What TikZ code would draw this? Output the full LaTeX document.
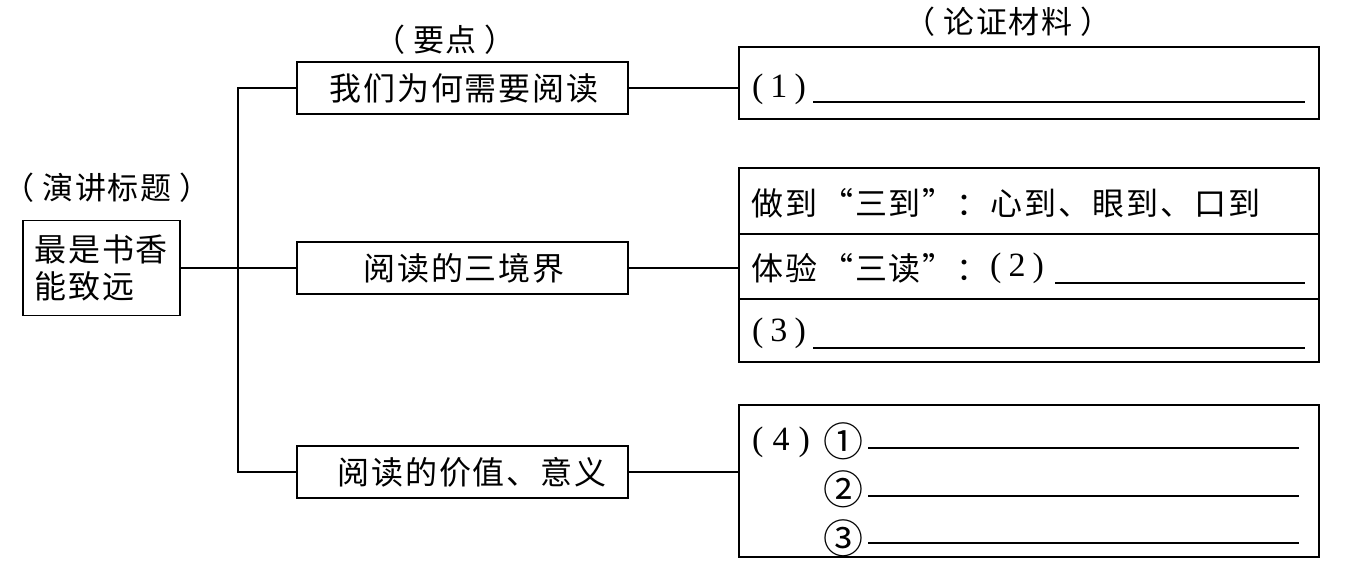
\documentclass[tikz,border=0pt]{standalone}
\usepackage{fontspec}
\setmainfont{Liberation Serif}
\newfontfamily\cjk{Noto Sans CJK SC}
\newfontfamily\cjksp[LetterSpace=6]{Noto Sans CJK SC}
\begin{document}
\begin{tikzpicture}[x=1pt,y=-1pt,
  box/.style={draw, line width=1.5pt, rectangle, inner sep=0pt},
  conn/.style={line width=1.5pt},
  blank/.style={line width=1.5pt},
  txt/.style={font=\cjksp\fontsize{32}{36}\selectfont, inner sep=0pt},
  lbl/.style={font=\cjksp\fontsize{31}{34}\selectfont, inner sep=0pt},
  num/.style={font=\fontsize{34}{36}\selectfont, inner sep=0pt},
  circ/.style={font=\cjk\fontsize{40}{44}\selectfont, inner sep=0pt}]
\useasboundingbox (0,0) rectangle (1347,567);
% title
\node[lbl] (lt) at (107,188) {（\hspace{8pt}演讲标题\hspace{8pt}）};
\node[box, minimum width=157pt, minimum height=95pt] (title) at (101.5,268) {};
\node[txt, anchor=west] (t1) at (34,249) {最是书香};
\node[txt, anchor=west] (t2) at (34,286) {能致远};
% key points
\node[lbl] (lk) at (445,40) {（\hspace{8pt}要点\hspace{8pt}）};
\node[box, minimum width=331pt, minimum height=52pt] (k1) at (462.5,88) {};
\node[txt] (k1t) at (464,88) {我们为何需要阅读};
\node[box, minimum width=331pt, minimum height=52pt] (k2) at (462.5,268) {};
\node[txt] (k2t) at (464,268) {阅读的三境界};
\node[box, minimum width=331pt, minimum height=52pt] (k3) at (462.5,472) {};
\node[txt] (k3t) at (472,472) {阅读的价值、意义};
\coordinate (trunk) at (238,268);
% materials
\node[lbl] (lm) at (1008,22) {（\hspace{8pt}论证材料\hspace{8pt}）};
\node[box, minimum width=580pt, minimum height=72pt] (m1) at (1029,83) {};
\node[box, minimum width=580pt, minimum height=194pt] (m2) at (1029,265) {};
\node[box, minimum width=580pt, minimum height=152pt] (m3) at (1029,481) {};
% connectors
\draw[conn] (k1.west) -| (trunk) |- (k3.west);
\draw[conn] (title.east) -- (k2.west);
\draw[conn] (k1.east) -- (k1.east -| m1.west);
\draw[conn] (k2.east) -- (k2.east -| m2.west);
\draw[conn] (k3.east) -- (k3.east -| m3.west);
% m1 content
\node[num, anchor=west] (p1) at (752,89) {(\hspace{7pt}1\hspace{7pt})};
\draw[blank] (813,102) -- (1305,102);
% m2 content
\draw[conn] (m2.west |- 0,234) -- (m2.east |- 0,234);
\draw[conn] (m2.west |- 0,299) -- (m2.east |- 0,299);
\node[txt, anchor=west] (r1) at (751,203) {做到\hspace{4pt}“三到”\hspace{2pt}：心到、眼到、口到};
\node[txt, anchor=west] (r2) at (751,268) {体验\hspace{4pt}“三读”\hspace{2pt}：};
\node[num, anchor=west] (p2) at (990,268) {(\hspace{7pt}2\hspace{7pt})};
\draw[blank] (1055,283) -- (1305,283);
\node[num, anchor=west] (p3) at (752,333) {(\hspace{7pt}3\hspace{7pt})};
\draw[blank] (813,348) -- (1305,348);
% m3 content
\node[num, anchor=west] (p4) at (752,442) {(\hspace{9pt}4\hspace{9pt})};
\node[circ] (c1) at (843,441) {①};
\node[circ] (c2) at (843,489) {②};
\node[circ] (c3) at (843,538) {③};
\draw[blank] (868,448) -- (1299,448);
\draw[blank] (868,496) -- (1299,496);
\draw[blank] (868,543) -- (1299,543);
\end{tikzpicture}
\end{document}
